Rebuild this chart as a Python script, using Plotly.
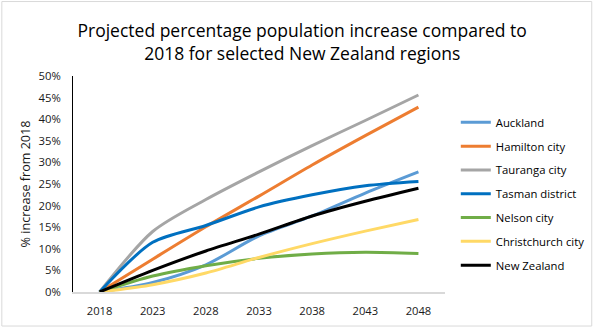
import plotly.graph_objects as go

# Projection years and percentage increase relative to 2018 (fractions)
years = ["2018", "2023", "2028", "2033", "2038", "2043", "2048"]

auckland = [0.0, 0.022, 0.063, 0.130, 0.176, 0.229, 0.278]
hamilton = [0.0, 0.076, 0.151, 0.222, 0.294, 0.362, 0.428]
tauranga = [0.0, 0.140, 0.214, 0.278, 0.339, 0.397, 0.456]
tasman = [0.0, 0.115, 0.154, 0.197, 0.225, 0.246, 0.256]
nelson = [0.0, 0.037, 0.061, 0.078, 0.088, 0.092, 0.089]
christchurch = [0.0, 0.017, 0.044, 0.080, 0.112, 0.141, 0.168]
new_zealand = [0.0, 0.050, 0.095, 0.134, 0.176, 0.210, 0.240]

series = [
    ("Auckland", auckland, "#5B9BD5"),
    ("Hamilton city", hamilton, "#ED7D31"),
    ("Tauranga city", tauranga, "#A5A5A5"),
    ("Tasman district", tasman, "#0070C0"),
    ("Nelson city", nelson, "#70AD47"),
    ("Christchurch city", christchurch, "#FFD966"),
    ("New Zealand", new_zealand, "#000000"),
]

FONT = "Open Sans"
W, H = 602, 330
ML, MR, MT, MB = 73, 150, 76, 35
pw = W - ML - MR
ph = H - MT - MB

fig = go.Figure()
for name, vals, color in series:
    fig.add_trace(go.Scatter(
        x=years, y=vals, name=name, mode="lines",
        line=dict(color=color, width=3, shape="spline", smoothing=0.8),
        legendgroup=name,
    ))

fig.update_layout(
    width=W, height=H,
    margin=dict(l=ML, r=MR, t=MT, b=MB),
    paper_bgcolor="white", plot_bgcolor="white",
    font=dict(family=FONT, color="#1A1A1A"),
    title=dict(
        text="Projected percentage population increase compared to<br>2018 for selected New Zealand regions",
        x=0.502, xanchor="center",
        yref="container", y=1 - 36.75 / H, yanchor="middle",
        font=dict(family=FONT, size=17.5, color="#000000"),
    ),
    showlegend=True,
    legend=dict(
        x=(463 - ML) / pw, xanchor="left",
        y=(H - MB - 195.5) / ph, yanchor="middle",
        font=dict(family=FONT, size=11.3, color="#000000"),
        tracegroupgap=4.8,
        bgcolor="rgba(0,0,0,0)",
    ),
    xaxis=dict(
        type="category", range=[-0.5, 6.5],
        showline=True, linecolor="#D9D9D9", linewidth=1.5,
        showgrid=False, ticks="", zeroline=False,
        ticklabelstandoff=8,
        tickfont=dict(family=FONT, size=11.2, color="#1A1A1A"),
    ),
    yaxis=dict(
        range=[0, 0.5], dtick=0.05, tickformat=".0%",
        showline=True, linecolor="#000000", linewidth=1,
        showgrid=False, ticks="", zeroline=False,
        ticklabelstandoff=9,
        tickfont=dict(family=FONT, size=11.3, color="#1A1A1A"),
        title=dict(text="% increase from 2018", standoff=5,
                   font=dict(family=FONT, size=12.6, color="#1A1A1A")),
    ),
)

# light frame around the whole chart
fig.add_shape(
    type="rect", xref="paper", yref="paper",
    x0=(0.5 - ML) / pw, x1=(W - 0.5 - ML) / pw,
    y0=-(MB - 0.5) / ph, y1=1 + (MT - 0.5) / ph,
    line=dict(color="#D9D9D9", width=1), fillcolor="rgba(0,0,0,0)",
    layer="below",
)

fig.write_html("out.html")
